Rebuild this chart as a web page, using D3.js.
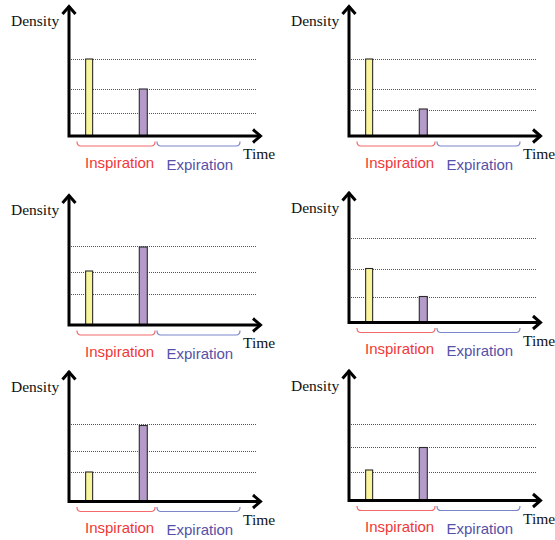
<!DOCTYPE html>
<html>
<head>
<meta charset="utf-8">
<script src="https://cdn.jsdelivr.net/npm/d3@7"></script>
<style>
  html, body { margin: 0; padding: 0; background: #fff; }
  svg { display: block; }
</style>
</head>
<body>
<svg id="chart" width="555" height="540"></svg>
<script>
// ---------------- DATA ----------------
const panelIds = ["A", "B", "C", "D", "E", "F"];
// Density of the early-inspiration sample (yellow bar), in arbitrary density units
const earlyValues = [77, 77, 54, 54, 29.5, 30.5];
// Density of the late-inspiration sample (purple bar)
const lateValues = [47, 27, 78, 26, 76, 53];
// Dotted reference levels per panel
const gridLevels = [
  [23, 47, 77],
  [26, 47, 77],
  [31, 53, 79],
  [26, 54, 85],
  [29.5, 51, 77.5],
  [28.5, 53.5, 77]
];
// Time of each sample (arbitrary time units)
const sampleTimes = [10.6, 39.1];
const sampleColors = ["#f8f59c", "#b49bc9"];
// Breathing phases
const phaseNames = ["Inspiration", "Expiration"];
const phaseStart = [4.2, 46.3];
const phaseEnd = [45.3, 90];
const phaseBracketColors = ["#f26a6a", "#7a86c8"];
const phaseTextColors = ["#f03838", "#5552a8"];
const yLabel = "Density";
const xLabel = "Time";

// ---------------- LAYOUT ----------------
const originX = [69, 349, 69, 349, 69, 349];
const originY = [136, 136, 325, 322.5, 501.5, 500.5];

const svg = d3.select("#chart");

panelIds.forEach((id, i) => {
  const ox = originX[i], oy = originY[i];
  const x = d3.scaleLinear().domain([0, 100]).range([ox, ox + 190]);
  const y = d3.scaleLinear().domain([0, 100]).range([oy, oy - 100]);
  const g = svg.append("g").attr("class", "panel-" + id);

  // gridlines
  g.selectAll("line.grid").data(gridLevels[i]).join("line")
    .attr("class", "grid")
    .attr("x1", ox).attr("x2", x(98.5))
    .attr("y1", d => Math.round(y(d)) + 0.5).attr("y2", d => Math.round(y(d)) + 0.5)
    .attr("stroke", "#555").attr("stroke-width", 1)
    .attr("stroke-dasharray", "1,1");

  // bars
  const vals = [earlyValues[i], lateValues[i]];
  const widths = [7, 8];
  g.selectAll("rect.bar").data(vals).join("rect")
    .attr("class", "bar")
    .attr("x", (d, k) => x(sampleTimes[k]) - widths[k] / 2)
    .attr("width", (d, k) => widths[k])
    .attr("y", d => y(d))
    .attr("height", d => oy - y(d))
    .attr("fill", (d, k) => sampleColors[k])
    .attr("stroke", "#2a2a2a").attr("stroke-width", 1.1);

  // axes
  const axisTopY = oy - 131;
  const axisRightX = ox + 193;
  g.append("path")
    .attr("d", `M${ox},${axisTopY + 1} L${ox},${oy} L${axisRightX - 1},${oy}`)
    .attr("fill", "none").attr("stroke", "#000").attr("stroke-width", 3)
    .attr("stroke-linejoin", "miter");
  // arrow heads
  g.append("path")
    .attr("d", `M${ox - 6.5},${axisTopY + 9} L${ox},${axisTopY + 1.5} L${ox + 6.5},${axisTopY + 9}`)
    .attr("fill", "none").attr("stroke", "#000").attr("stroke-width", 3)
    .attr("stroke-linejoin", "miter");
  g.append("path")
    .attr("d", `M${axisRightX - 9},${oy - 6.5} L${axisRightX - 1.5},${oy} L${axisRightX - 9},${oy + 6.5}`)
    .attr("fill", "none").attr("stroke", "#000").attr("stroke-width", 3)
    .attr("stroke-linejoin", "miter");

  // brackets
  const bt = oy + 5.5, bb = oy + 10;
  phaseNames.forEach((p, k) => {
    const x1 = x(phaseStart[k]), x2 = x(phaseEnd[k]);
    g.append("path")
      .attr("d", `M${x1},${bt} Q${x1},${bb} ${x1 + 4},${bb} L${x2 - 4},${bb} Q${x2},${bb} ${x2},${bt}`)
      .attr("fill", "none").attr("stroke", phaseBracketColors[k]).attr("stroke-width", 1.2);
  });

  // phase labels
  g.append("text")
    .attr("x", ox + 16).attr("y", oy + 31.5)
    .attr("font-family", "Liberation Sans, Arial, sans-serif")
    .attr("font-size", 15).attr("fill", phaseTextColors[0])
    .text(phaseNames[0]);
  g.append("text")
    .attr("x", ox + 97.5).attr("y", oy + 33.5)
    .attr("font-family", "Liberation Sans, Arial, sans-serif")
    .attr("font-size", 15).attr("fill", phaseTextColors[1])
    .text(phaseNames[1]);

  // axis labels
  g.append("text")
    .attr("x", ox - 58).attr("y", oy - 110)
    .attr("font-family", "Liberation Serif, Times New Roman, serif")
    .attr("font-size", 15.5).attr("fill", "#111")
    .text(yLabel);
  g.append("text")
    .attr("x", ox + 174).attr("y", oy + 23)
    .attr("font-family", "Liberation Serif, Times New Roman, serif")
    .attr("font-size", 15.5).attr("fill", "#111")
    .text(xLabel);
});
</script>
</body>
</html>
